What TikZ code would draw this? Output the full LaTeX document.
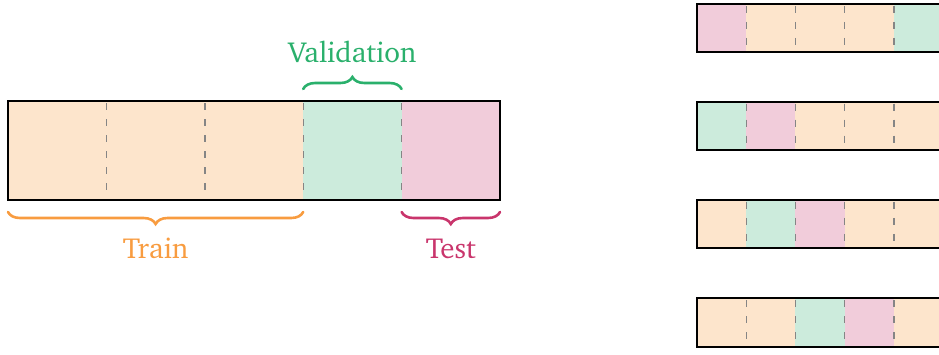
\documentclass[tikz,border=0pt]{standalone}
\usepackage[T1]{fontenc}
\usepackage{charter}
\usetikzlibrary{decorations.pathreplacing}
\definecolor{trainfill}{HTML}{FDE5CC}
\definecolor{valfill}{HTML}{CCEBDC}
\definecolor{testfill}{HTML}{F1CCDA}
\definecolor{trainc}{HTML}{F89C40}
\definecolor{valc}{HTML}{2AB06C}
\definecolor{testc}{HTML}{C9356C}
\definecolor{dashc}{HTML}{858585}
\tikzset{
  sep/.style={draw=dashc, line width=1.4pt, dash pattern=on 7pt off 9pt, dash phase=-2pt},
  frame/.style={draw=black, line width=2pt},
  brc/.style={decorate, decoration={brace, amplitude=12pt, raise=0pt}, line width=2.6pt, line cap=round},
  lbl/.style={font=\fontsize{29}{32}\selectfont, inner sep=0pt, anchor=base},
}
\begin{document}
\begin{tikzpicture}[x=1pt, y=-1pt]
\useasboundingbox (0,0) rectangle (939,354);
\clip (0,0) rectangle (939,354);
% big bar
\def\bw{98.4}
\fill[trainfill] (8,101) rectangle (303.2,199.5);
\fill[valfill] (303.2,101) rectangle (401.6,199.5);
\fill[testfill] (401.6,101) rectangle (500,199.5);
\foreach \i in {1,2,3,4}{
  \draw[sep] ({8+\i*\bw},101) -- ({8+\i*\bw},199.5);
}
\draw[frame] (8,101) rectangle (500,199.5);
% braces
\coordinate (va) at (303.2,89);
\coordinate (vb) at (401.6,89);
\draw[brc, valc] (va) -- (vb);
\node[lbl, text=valc] (val) at (352.4,62.5) {Validation};
\coordinate (ta) at (303.2,212);
\coordinate (tb) at (8,212);
\draw[brc, trainc] (ta) -- (tb);
\node[lbl, text=trainc] (train) at (155.6,258.5) {Train};
\coordinate (sa) at (500,212);
\coordinate (sb) at (401.6,212);
\draw[brc, testc] (sa) -- (sb);
\node[lbl, text=testc] (test) at (450.8,258.5) {Test};
% right bars
\def\sw{49.2}
\foreach \top/\cols in {3.8/{testfill,trainfill,trainfill,trainfill,valfill},
                       101.5/{valfill,testfill,trainfill,trainfill,trainfill},
                       199.8/{trainfill,valfill,testfill,trainfill,trainfill},
                       298/{trainfill,trainfill,valfill,testfill,trainfill}}{
  \foreach \c [count=\k from 0] in \cols {
    \fill[\c] ({697+\k*\sw},\top) rectangle ({697+(\k+1)*\sw},\top+48.5);
  }
  \foreach \k in {1,2,3,4}{
    \draw[sep] ({697+\k*\sw},\top) -- ({697+\k*\sw},\top+48.5);
  }
  \draw[frame] (697,\top) rectangle (943,\top+48.5);
}
\end{tikzpicture}
\end{document}
